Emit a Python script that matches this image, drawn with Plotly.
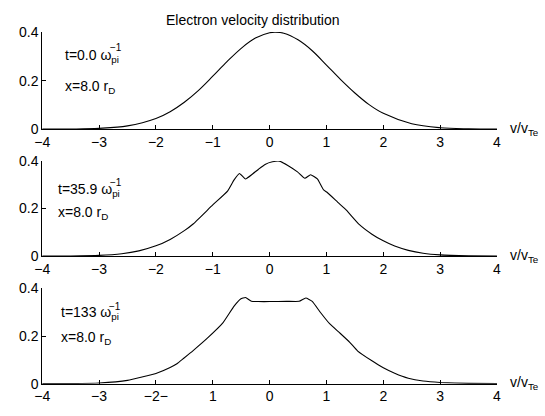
import plotly.graph_objects as go

W, H = 545, 416

# ---------------- data ----------------
v1 = [-4, -3.5, -3, -2.5, -2, -1.75, -1.5, -1.25, -1, -0.75, -0.5, -0.25, 0, 0.1, 0.25,
      0.5, 0.75, 1, 1.25, 1.5, 1.75, 2, 2.5, 3, 3.5, 4]
f1 = [0.0001, 0.0006, 0.0033, 0.0136, 0.044, 0.072, 0.111, 0.160, 0.218, 0.278, 0.333,
      0.375, 0.397, 0.399, 0.395, 0.368, 0.323, 0.264, 0.204, 0.149, 0.101, 0.065,
      0.0224, 0.0059, 0.0012, 0.0002]

v2 = [-4, -3.5, -3, -2.6, -2.3, -2.0, -1.75, -1.5, -1.34, -1.0, -0.74, -0.625, -0.53,
      -0.425, -0.3, -0.195, -0.08, 0.05, 0.17, 0.32, 0.49, 0.62, 0.72, 0.84, 0.95, 1.01,
      1.2, 1.35, 1.58, 1.8, 2.0, 2.2, 2.44, 2.7, 3.0, 3.5, 4]
f2 = [0.0001, 0.0006, 0.003, 0.010, 0.022, 0.043, 0.070, 0.107, 0.136, 0.215, 0.273,
      0.320, 0.347, 0.324, 0.345, 0.365, 0.385, 0.396, 0.399, 0.381, 0.354, 0.327, 0.342,
      0.324, 0.278, 0.268, 0.226, 0.193, 0.132, 0.092, 0.064, 0.042, 0.024, 0.012, 0.005,
      0.0012, 0.0002]

v3 = [-4, -3.5, -3, -2.5, -2, -1.75, -1.63, -1.51, -1.34, -1.1, -0.83, -0.625, -0.51,
      -0.425, -0.32, -0.2, 0.0, 0.3, 0.52, 0.637, 0.75, 0.895, 1.055, 1.24, 1.41, 1.55,
      1.8, 2.0, 2.2, 2.44, 2.7, 3.0, 3.5, 4]
f3 = [0.0001, 0.0006, 0.003, 0.014, 0.043, 0.068, 0.084, 0.107, 0.140, 0.190, 0.253,
      0.326, 0.356, 0.362, 0.346, 0.345, 0.345, 0.346, 0.346, 0.360, 0.346, 0.299, 0.252,
      0.212, 0.174, 0.137, 0.096, 0.067, 0.044, 0.023, 0.011, 0.005, 0.0012, 0.0002]

x_ticks = [-4, -3, -2, -1, 0, 1, 2, 3, 4]
x_labels = ["−4", "−3", "−2", "−1", "0", "1", "2", "3", "4"]
x_labels_3 = ["−4", "−3", "−2−", "1", "0", "1", "2", "3", "4"]
y_ticks = [0, 0.2, 0.4]
y_labels = ["0", "0.2", "0.4"]
time_labels = ["t=0.0 ω", "t=35.9 ω", "t=133 ω"]
pos_label = "x=8.0 r"
title = "Electron velocity distribution"

series = [(v1, f1), (v2, f2), (v3, f3)]
tick_text = [x_labels, x_labels, x_labels_3]
smooth = [1.0, 0.4, 0.4]

# ---------------- layout helpers (pixels -> paper) ----------------
def px(x):
    return x / W

def py(y):
    return 1 - y / H

x_left, x_right = 35, 500
panels = [(25, 126), (159, 258), (291.7, 390.7)]  # (top px, bottom px)

FONT = "Liberation Sans, Arial, Helvetica, sans-serif"
FS = 14

fig = go.Figure()
layout = dict(
    width=W, height=H, margin=dict(l=0, r=0, t=0, b=0),
    paper_bgcolor="white", plot_bgcolor="white",
    showlegend=False, font=dict(family=FONT, size=FS, color="black"),
)

annotations = []
for i, ((vv, ff), (top, bot)) in enumerate(zip(series, panels)):
    n = "" if i == 0 else str(i + 1)
    fig.add_trace(go.Scatter(x=vv, y=ff, mode="lines",
                             line=dict(color="black", width=1.1, shape="spline",
                                       smoothing=smooth[i]),
                             xaxis="x" + n, yaxis="y" + n, hoverinfo="skip"))
    layout["xaxis" + n] = dict(
        domain=[px(x_left), px(x_right)], anchor="y" + n, range=[-4, 4],
        tickvals=x_ticks, ticktext=tick_text[i], ticks="inside", ticklen=4,
        tickcolor="black", showline=True, linecolor="black", linewidth=1,
        showgrid=False, zeroline=False, tickfont=dict(size=FS),
    )
    layout["yaxis" + n] = dict(
        domain=[py(bot), py(top)], anchor="x" + n, range=[0, 0.4],
        tickvals=y_ticks, ticktext=y_labels, ticks="inside", ticklen=4,
        tickcolor="black", showline=True, linecolor="black", linewidth=1,
        showgrid=False, zeroline=False, tickfont=dict(size=FS),
    )
    # v/v_Te label at right of x axis
    annotations.append(dict(xref="paper", yref="paper", x=px(511), y=py(bot - 12),
                            xanchor="left", yanchor="top", showarrow=False,
                            text="v/v<sub>Te</sub>", font=dict(size=FS)))

# in-panel labels: (left x, t-label top y, sup x, sup center y, x-label top y)
txt_pos = [(56, 38.5, 102, 41.5, 71), (49, 178, 102, 181.5, 201.5),
           (52, 306, 101, 310, 332)]
for i, (lx, ty, supx, supy, xty) in enumerate(txt_pos):
    annotations.append(dict(xref="paper", yref="paper", x=px(lx), y=py(ty),
                            xanchor="left", yanchor="top", showarrow=False,
                            text=time_labels[i] + "<sub>pi</sub>", font=dict(size=FS)))
    annotations.append(dict(xref="paper", yref="paper", x=px(supx), y=py(supy),
                            xanchor="left", yanchor="middle", showarrow=False,
                            text="−1", font=dict(size=10)))
    annotations.append(dict(xref="paper", yref="paper", x=px(lx), y=py(xty),
                            xanchor="left", yanchor="top", showarrow=False,
                            text=pos_label + "<sub>D</sub>", font=dict(size=FS)))

annotations.append(dict(xref="paper", yref="paper", x=px(251), y=py(12),
                        xanchor="center", yanchor="middle", showarrow=False,
                        text=title, font=dict(size=FS)))

layout["annotations"] = annotations
fig.update_layout(**layout)
fig.write_html("out.html")
